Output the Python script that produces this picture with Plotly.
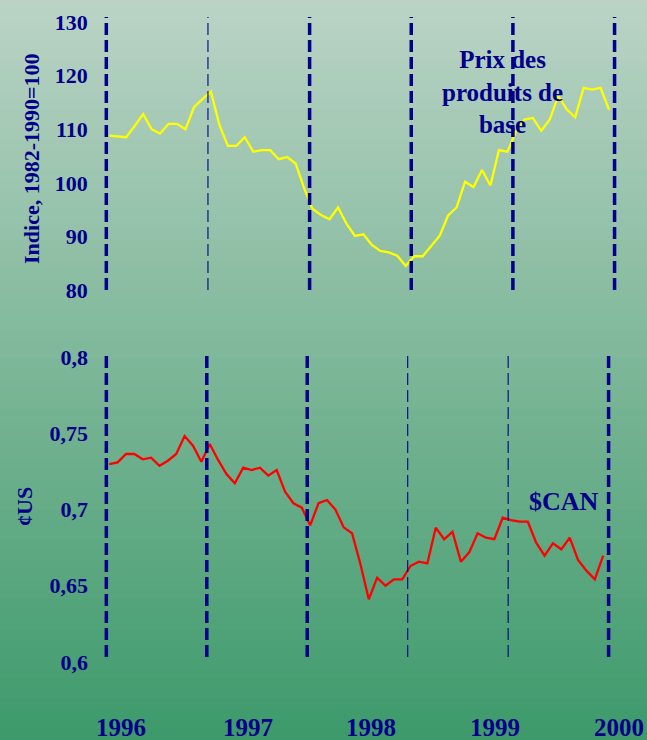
import plotly.graph_objects as go

# Données mensuelles, janvier 1996 -> décembre 2000
annees = ["1996", "1997", "1998", "1999", "2000"]

prix_base = [
    108.8, 108.6, 108.5, 110.6, 112.8, 110.0, 109.2, 111.0, 111.0, 110.0, 114.1, 115.6,
    117.0, 110.8, 106.9, 106.9, 108.5, 105.8, 106.1, 106.1, 104.4, 104.8, 103.6, 99.0,
    95.1, 94.0, 93.2, 95.4, 92.4, 90.1, 90.4, 88.4, 87.3, 87.0, 86.4, 84.5,
    86.3, 86.3, 88.2, 90.1, 93.9, 95.4, 100.2, 99.2, 102.4, 99.5, 106.1, 105.8,
    109.5, 111.8, 112.1, 109.7, 111.8, 116.2, 113.7, 112.2, 117.7, 117.4, 117.7, 113.6,
]

dollar_can = [
    0.7298, 0.7309, 0.7364, 0.7364, 0.7329, 0.7340, 0.7287, 0.7320, 0.7364, 0.7482, 0.7418, 0.7313,
    0.7430, 0.7325, 0.7233, 0.7172, 0.7274, 0.7259, 0.7274, 0.7222, 0.7259, 0.7117, 0.7041, 0.7012,
    0.6896, 0.7041, 0.7062, 0.7001, 0.6883, 0.6844, 0.6643, 0.6411, 0.6553, 0.6500, 0.6542, 0.6542,
    0.6631, 0.6658, 0.6647, 0.6881, 0.6805, 0.6854, 0.6658, 0.6719, 0.6844, 0.6815, 0.6805, 0.6946,
    0.6931, 0.6920, 0.6920, 0.6782, 0.6697, 0.6778, 0.6739, 0.6815, 0.6669, 0.6599, 0.6542, 0.6697,
]

ticks_indice = [80, 90, 100, 110, 120, 130]
ticks_cents = [0.6, 0.65, 0.7, 0.75, 0.8]

mois = list(range(len(prix_base)))

BLEU = "#00008B"
POLICE = "Liberation Serif"
W, H = 647, 740

fig = go.Figure()

fig.add_trace(go.Scatter(
    x=mois, y=prix_base, mode="lines",
    line=dict(color="#FFFF00", width=2.3),
    xaxis="x", yaxis="y", showlegend=False, hoverinfo="skip"
))
fig.add_trace(go.Scatter(
    x=mois, y=dollar_can, mode="lines",
    line=dict(color="#FF0000", width=2.3),
    xaxis="x2", yaxis="y2", showlegend=False, hoverinfo="skip"
))

# Fond en dégradé (du vert pâle en haut au vert en bas)
haut = (186, 211, 197)
bas = (62, 154, 107)
n_bandes = 74
shapes = []
for i in range(n_bandes):
    t = i / (n_bandes - 1)
    c = tuple(round(haut[k] + (bas[k] - haut[k]) * t) for k in range(3))
    shapes.append(dict(
        type="rect", xref="paper", yref="paper", layer="below",
        x0=0, x1=1, y0=1 - (i + 1) / n_bandes, y1=1 - i / n_bandes + 0.001,
        fillcolor="rgb(%d,%d,%d)" % c, line=dict(width=0)
    ))

# Séparateurs d'années (pointillés)
limites = [12 * k - 0.35 for k in range(6)]
epais_haut = [3.5, 1.1, 3.5, 3.5, 3.5, 3.5]
epais_bas = [3.5, 3.5, 3.5, 1.1, 1.1, 3.5]
for xv, w in zip(limites, epais_haut):
    shapes.append(dict(type="line", xref="x", yref="y domain", x0=xv, x1=xv,
                       y0=0, y1=1.019, line=dict(color=BLEU, width=w, dash="12px,5px")))
for xv, w in zip(limites, epais_bas):
    shapes.append(dict(type="line", xref="x2", yref="y2 domain", x0=xv, x1=xv,
                       y0=0.016, y1=1.007, line=dict(color=BLEU, width=w, dash="12px,5px")))

axe_x = dict(showgrid=False, zeroline=False, showticklabels=False, showline=False, range=[-1, 61])
police_ticks = dict(family=POLICE, size=22, color=BLEU, weight="bold")

annotations = [
    dict(text="Indice, 1982-1990=100", x=31 / W, y=1 - 159 / H, textangle=-90,
         font=dict(family=POLICE, size=22, color=BLEU, weight="bold")),
    dict(text="¢US", x=24 / W, y=1 - 507 / H, textangle=-90,
         font=dict(family=POLICE, size=22, color=BLEU, weight="bold")),
    dict(text="Prix des<br>produits de<br>base", x=502 / W, y=1 - 92 / H,
         font=dict(family=POLICE, size=25, color=BLEU, weight="bold")),
    dict(text="$CAN", x=564 / W, y=1 - 502 / H,
         font=dict(family=POLICE, size=26, color=BLEU, weight="bold")),
]
pos_annees = [121, 248, 371, 495, 619]
for a, px in zip(annees, pos_annees):
    annotations.append(dict(text=a, x=px / W, y=1 - 727 / H,
                            font=dict(family=POLICE, size=25, color=BLEU, weight="bold")))
for a in annotations:
    a.update(xref="paper", yref="paper", showarrow=False, xanchor="center", yanchor="middle")

fig.update_layout(
    width=W, height=H, autosize=False,
    margin=dict(l=0, r=0, t=0, b=0, pad=0, autoexpand=False),
    paper_bgcolor=f"rgb{bas}",
    plot_bgcolor="rgba(0,0,0,0)",
    separators=", ",
    xaxis=dict(axe_x, domain=[100.8 / W, 626.0 / W]),
    xaxis2=dict(axe_x, domain=[100.9 / W, 619.9 / W]),
    yaxis=dict(domain=[1 - 290 / H, 1 - 22 / H], range=[80, 130], tickvals=ticks_indice,
               showgrid=False, zeroline=False, showline=False, ticks="",
               ticklabelstandoff=12, tickfont=police_ticks),
    yaxis2=dict(domain=[1 - 662 / H, 1 - 357 / H], range=[0.6, 0.8], tickvals=ticks_cents,
                showgrid=False, zeroline=False, showline=False, ticks="",
                ticklabelstandoff=12, tickfont=police_ticks, anchor="x2"),
    shapes=shapes,
    annotations=annotations,
)
fig.update_traces(cliponaxis=False)

# la page HTML a une marge de 8 px par défaut : on la supprime
fig.write_html(
    "out.html",
    config={"displayModeBar": False},
    post_script="document.body.style.margin='0';document.body.style.overflow='hidden';",
)
